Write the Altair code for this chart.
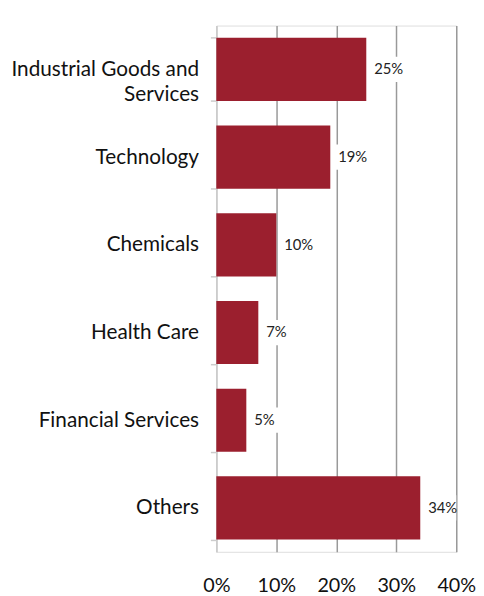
import altair as alt
import pandas as pd

categories = ["Industrial Goods and Services", "Technology", "Chemicals",
              "Health Care", "Financial Services", "Others"]
values = [25, 19, 10, 7, 5, 34]
x_ticks = [0, 10, 20, 30, 40]

df = pd.DataFrame({"cat": categories, "val": values})
df["lbl"] = df["val"].astype(str) + "%"

FONT = "Lato"
RED = "#9b1f2e"

y_enc = alt.Y("cat:N", sort=categories,
              scale=alt.Scale(paddingInner=0.28, paddingOuter=0.14),
              axis=alt.Axis(title=None, tickBand="extent", domainColor="#cccccc",
                            domainWidth=1.5, tickColor="#cccccc", tickWidth=1.5,
                            tickSize=6, labelPadding=12, labelFontSize=21,
                            labelFont=FONT, labelColor="#111111", labelLimit=300,
                            labelExpr="datum.label == 'Industrial Goods and Services' ? ['Industrial Goods and', 'Services'] : datum.label",
                            labelLineHeight=26))

x_scale = alt.Scale(domain=[0, 40], nice=False)
x_axis = alt.Axis(title=None, values=x_ticks, format=".0f", labelExpr="datum.value + '%'",
                  grid=True, labelFlush=False,
                  gridColor={"condition": {"test": "datum.value == 0", "value": "#cccccc"}, "value": "#999999"},
                  gridWidth=1.5, domain=False, ticks=False, labelPadding=24,
                  labelFontSize=20, labelFont=FONT, labelColor="#111111")

base = alt.Chart(df)

bars = base.mark_bar(color=RED).encode(
    x=alt.X("val:Q", scale=x_scale, axis=x_axis),
    y=y_enc,
)

boxes = base.transform_calculate(
    lo="datum.val + 0.4", hi="datum.val + 6"
).mark_bar(color="white", height={"band": 0.4}).encode(
    x=alt.X("lo:Q", scale=x_scale),
    x2="hi:Q",
    y=alt.Y("cat:N", sort=categories),
)

texts = base.mark_text(align="left", baseline="middle", dx=8, fontSize=15,
                       font=FONT, color="#222222").encode(
    x=alt.X("val:Q", scale=x_scale),
    y=alt.Y("cat:N", sort=categories),
    text="lbl:N",
)

chart = alt.layer(bars, boxes, texts).properties(
    width=243, height=533,
    autosize=alt.AutoSizeParams(type="none"),
    padding={"left": 211, "top": 14, "right": 20, "bottom": 40},
).configure_view(stroke=None).configure(background="white")

chart.save("out.html", embed_options={"renderer": "svg", "actions": False})
